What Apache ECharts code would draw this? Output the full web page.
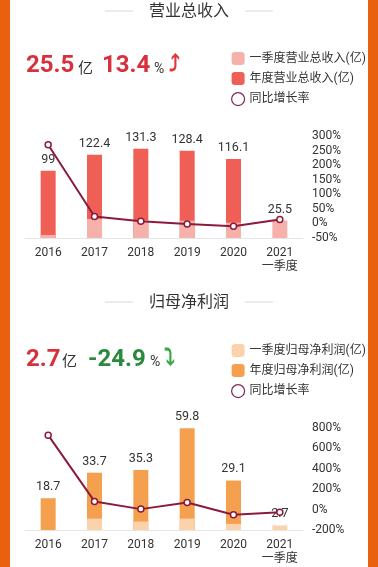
<!DOCTYPE html>
<html>
<head>
<meta charset="utf-8">
<script src="https://cdn.jsdelivr.net/npm/echarts@6/dist/echarts.min.js"></script>
<style>
  html, body { margin: 0; padding: 0; width: 378px; height: 567px; background: #e9610f; overflow: hidden; }
  .card { position: absolute; left: 10px; top: 0; width: 358px; height: 567px; background: #fff; }
  #main { position: absolute; left: 0; top: 0; width: 378px; height: 567px; }
</style>
</head>
<body>
<div class="card"></div>
<div id="main"></div>
<script>
// 数据
const years = ['2016', '2017', '2018', '2019', '2020', '2021\n一季度']
const revenueYear = [99, 122.4, 131.3, 128.4, 116.1, null]
const revenueQ1 = [4.5, 28, 26.5, 25.5, 22.5, 25.5]
const revenueYoy = [270, 23.6, 7.3, -2.3, -9.6, 13.4]
const profitYear = [18.7, 33.7, 35.3, 59.8, 29.1, null]
const profitQ1 = [0, 6.7, 5, 6.7, 3.6, 2.7]
const profitYoy = [730, 80.2, 4.7, 69.4, -51.3, -24.9]
const revenueRateAxis = { min: -50, max: 300, interval: 50 }
const profitRateAxis = { min: -200, max: 800, interval: 200 }

const font = 'Roboto, "Noto Sans CJK SC", sans-serif'
const textColor = '#333'
const lineColor = '#8c1b3b'
const red = '#d9303e'
const green = '#2a8a3c'

const chart = echarts.init(document.getElementById('main'), null, { renderer: 'canvas' })

// 只给最后一项显示标签
const q1Data = arr => arr.map((v, i) => ({
  value: v,
  label: { show: i === arr.length - 1 }
}))

const barLabel = { show: true, position: 'top', distance: 5, color: textColor, fontSize: 12.5, fontFamily: font }

const xAxisBase = {
  type: 'category',
  data: years,
  axisTick: { show: false },
  axisLine: { lineStyle: { color: '#e6e6e6', width: 1 } },
  axisLabel: { interval: 0, color: textColor, fontSize: 12, fontFamily: font, lineHeight: 14, margin: 8 }
}
const rateAxis = (idx, cfg) => ({
  type: 'value',
  gridIndex: idx,
  position: 'right',
  min: cfg.min,
  max: cfg.max,
  interval: cfg.interval,
  splitLine: { show: false },
  axisLine: { show: false },
  axisTick: { show: false },
  axisLabel: { formatter: '{value}%', color: textColor, fontSize: 12, fontFamily: font, margin: 9 }
})
const hiddenAxis = (idx, max) => ({
  type: 'value', gridIndex: idx, min: 0, max: max, show: false, splitLine: { show: false }
})

const rateLine = (name, data, xi, yi) => ({
  name: name,
  type: 'line',
  xAxisIndex: xi,
  yAxisIndex: yi,
  data: data,
  symbol: 'circle',
  symbolSize: 6,
  z: 5,
  lineStyle: { color: lineColor, width: 2 },
  itemStyle: { color: '#fff', borderColor: lineColor, borderWidth: 1.5 }
})

const legendBase = (top, names) => ({
  orient: 'vertical',
  left: 226,
  top: top,
  itemWidth: 13,
  itemHeight: 13,
  itemGap: 7,
  textStyle: { color: textColor, fontSize: 12, fontFamily: font },
  data: [
    { name: names[0], icon: 'roundRect' },
    { name: names[1], icon: 'roundRect' },
    { name: '同比增长率', icon: 'circle', itemStyle: { color: '#fff', borderColor: '#7a2a55', borderWidth: 1.2 } }
  ]
})

// 标题和大数字
const headText = (x, y, text, size, color, weight) => ({
  type: 'text', x: x, y: y,
  style: { text: text, fontSize: size, fill: color, fontWeight: weight || 'normal', fontFamily: font, verticalAlign: 'middle' }
})
const titleGroup = (y, text) => [
  { type: 'line', shape: { x1: 105, y1: y - 1, x2: 133, y2: y - 1 }, style: { stroke: '#d8d8d8', lineWidth: 1 } },
  { type: 'line', shape: { x1: 245, y1: y - 1, x2: 273, y2: y - 1 }, style: { stroke: '#d8d8d8', lineWidth: 1 } },
  { type: 'text', x: 189, y: y, style: { text: text, fontSize: 16, fill: textColor, fontFamily: font, align: 'center', verticalAlign: 'middle' } }
]

const option = {
  animation: false,
  grid: [
    { left: 25, right: 75, top: 136, height: 102 },
    { left: 25, right: 75, top: 428, height: 102 }
  ],
  legend: [
    legendBase(47, ['一季度营业总收入(亿)', '年度营业总收入(亿)']),
    legendBase(339, ['一季度归母净利润(亿)', '年度归母净利润(亿)'])
  ],
  xAxis: [
    Object.assign({ gridIndex: 0 }, xAxisBase),
    Object.assign({ gridIndex: 1 }, xAxisBase)
  ],
  yAxis: [
    hiddenAxis(0, 150),
    rateAxis(0, revenueRateAxis),
    hiddenAxis(1, 60),
    rateAxis(1, profitRateAxis)
  ],
  series: [
    {
      name: '年度营业总收入(亿)', type: 'bar', xAxisIndex: 0, yAxisIndex: 0,
      data: revenueYear, barWidth: 15, barGap: '-100%',
      itemStyle: { color: '#ef5f55' }, label: barLabel
    },
    {
      name: '一季度营业总收入(亿)', type: 'bar', xAxisIndex: 0, yAxisIndex: 0,
      data: q1Data(revenueQ1), barWidth: 15, barGap: '-100%',
      itemStyle: { color: '#f6b2aa' }, label: barLabel
    },
    rateLine('同比增长率', revenueYoy, 0, 1),
    {
      name: '年度归母净利润(亿)', type: 'bar', xAxisIndex: 1, yAxisIndex: 2,
      data: profitYear, barWidth: 15, barGap: '-100%',
      itemStyle: { color: '#f5a04e' }, label: barLabel
    },
    {
      name: '一季度归母净利润(亿)', type: 'bar', xAxisIndex: 1, yAxisIndex: 2,
      data: q1Data(profitQ1), barWidth: 15, barGap: '-100%',
      itemStyle: { color: '#fad3ac' }, label: barLabel
    },
    rateLine('同比增长率', profitYoy, 1, 3)
  ],
  graphic: [
    ...titleGroup(12, '营业总收入'),
    ...titleGroup(303, '归母净利润'),
    headText(26, 66, '25.5', 24, red, 'bold'),
    headText(78, 69, '亿', 15, textColor),
    headText(102, 66, '13.4', 24, red, 'bold'),
    headText(154, 69, '%', 14, textColor),
    { type: 'text', x: 169, y: 65, style: { text: '⤴', fontSize: 22, fill: '#e5343a', fontWeight: 'bold', fontFamily: 'DejaVu Sans', verticalAlign: 'middle' } },
    headText(26, 360, '2.7', 24, red, 'bold'),
    headText(62, 362, '亿', 15, textColor),
    headText(88, 360, '-24.9', 24, green, 'bold'),
    headText(150, 362, '%', 14, textColor),
    { type: 'text', x: 164, y: 358, style: { text: '⤵', fontSize: 22, fill: '#3aa845', fontWeight: 'bold', fontFamily: 'DejaVu Sans', verticalAlign: 'middle' } }
  ]
}

chart.setOption(option)
</script>
</body>
</html>
